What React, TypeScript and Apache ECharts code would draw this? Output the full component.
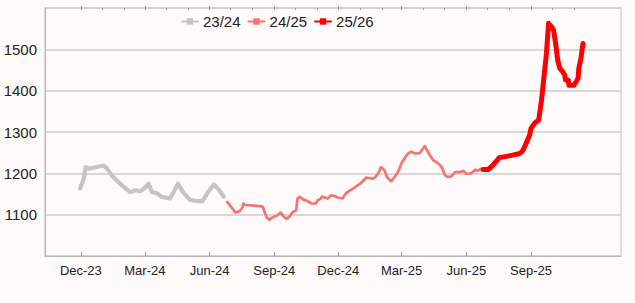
import React, { useEffect, useRef } from 'react';
import * as echarts from 'echarts';

const seasonNames = ['23/24', '24/25', '25/26'];
const seasonColors = ['#c4c4c4', '#f47474', '#ff0000'];
const seasonWidths = [4.2, 2.7, 5];

const dates2324 = ['2023-11-30','2023-12-05','2023-12-08','2023-12-12','2024-01-02','2024-01-07','2024-01-14','2024-01-21','2024-01-31','2024-02-09','2024-02-17','2024-02-24','2024-03-01','2024-03-06','2024-03-11','2024-03-19','2024-03-25','2024-04-06','2024-04-11','2024-04-17','2024-04-24','2024-05-04','2024-05-14','2024-05-22','2024-05-30','2024-06-07','2024-06-13','2024-06-21'];
const values2324 = [1163,1187,1215,1211,1219,1212,1195,1183,1167,1155,1159,1157,1165,1175,1155,1151,1143,1139,1155,1175,1155,1136,1133,1133,1155,1173,1163,1144];

const dates2425 = ['2024-06-26','2024-07-02','2024-07-08','2024-07-14','2024-07-18','2024-07-19','2024-07-21','2024-08-14','2024-08-16','2024-08-21','2024-08-25','2024-08-30','2024-09-05','2024-09-10','2024-09-14','2024-09-18','2024-09-23','2024-09-27','2024-10-02','2024-10-04','2024-10-07','2024-10-12','2024-10-18','2024-10-24','2024-10-30','2024-11-02','2024-11-06','2024-11-08','2024-11-13','2024-11-16','2024-11-21','2024-11-26','2024-12-01','2024-12-07','2024-12-12','2024-12-22','2025-01-01','2025-01-10','2025-01-19','2025-01-23','2025-01-28','2025-01-31','2025-02-05','2025-02-08','2025-02-14','2025-02-19','2025-02-24','2025-03-01','2025-03-05','2025-03-10','2025-03-15','2025-03-20','2025-03-27','2025-04-03','2025-04-10','2025-04-15','2025-04-22','2025-04-27','2025-05-02','2025-05-06','2025-05-11','2025-05-16','2025-05-23','2025-05-28','2025-06-01','2025-06-06','2025-06-10','2025-06-14','2025-06-17','2025-06-22'];
const values2425 = [1131,1118,1105,1109,1118,1127,1124,1120,1118,1094,1088,1094,1098,1105,1096,1090,1096,1106,1110,1139,1143,1137,1133,1127,1127,1135,1139,1144,1141,1139,1147,1145,1141,1139,1152,1163,1175,1190,1187,1191,1203,1215,1207,1191,1181,1191,1203,1225,1236,1248,1252,1248,1249,1266,1244,1232,1224,1215,1195,1191,1193,1203,1203,1206,1199,1199,1203,1209,1206,1211];

const dates2526 = ['2025-06-25','2025-07-02','2025-07-09','2025-07-18','2025-07-28','2025-08-06','2025-08-16','2025-08-20','2025-08-25','2025-08-30','2025-09-01','2025-09-06','2025-09-12','2025-09-16','2025-09-19','2025-09-23','2025-09-26','2025-09-30','2025-10-03','2025-10-06','2025-10-09','2025-10-12','2025-10-16','2025-10-19','2025-10-20','2025-10-24','2025-10-25','2025-11-01','2025-11-04','2025-11-07','2025-11-08','2025-11-11','2025-11-13','2025-11-14'];
const values2526 = [1209,1209,1220,1238,1241,1244,1248,1254,1272,1292,1308,1321,1329,1377,1426,1490,1563,1555,1547,1515,1474,1454,1446,1438,1426,1426,1413,1413,1421,1430,1454,1478,1503,1514];

const majorTickDates = ['2023-12-01','2024-03-01','2024-06-01','2024-09-01','2024-12-01','2025-03-01','2025-06-01','2025-09-01'];
const minorTickDates = ['2023-12-01','2024-01-01','2024-02-01','2024-03-01','2024-04-01','2024-05-01','2024-06-01','2024-07-01','2024-08-01','2024-09-01','2024-10-01','2024-11-01','2024-12-01','2025-01-01','2025-02-01','2025-03-01','2025-04-01','2025-05-01','2025-06-01','2025-07-01','2025-08-01','2025-09-01','2025-10-01','2025-11-01'];
const yTickLabels = [1100, 1200, 1300, 1400, 1500];

const MONTHS = ['Jan','Feb','Mar','Apr','May','Jun','Jul','Aug','Sep','Oct','Nov','Dec'];
const ts = (s: string) => {
  const [y, m, d] = s.split('-').map(Number);
  return Date.UTC(y, m - 1, d);
};
const fmtDate = (v: number) => {
  const d = new Date(v);
  return MONTHS[d.getUTCMonth()] + '-' + String(d.getUTCFullYear()).slice(2);
};

const FONT = 'Liberation Sans, Arial, sans-serif';

export default function App() {
  const ref = useRef<HTMLDivElement>(null);
  useEffect(() => {
    if (!ref.current) return;
    const chart = echarts.init(ref.current, null, { renderer: 'svg' });
    const allDates = [dates2324, dates2425, dates2526];
    const allValues = [values2324, values2425, values2526];
    const xMin = ts('2023-10-11');
    const xMax = ts('2026-01-07');
    const major = majorTickDates.map(ts);
    const minor = minorTickDates.map(ts);
    const baseX = { type: 'value', min: xMin, max: xMax, gridIndex: 0, splitLine: { show: false } };
    chart.setOption({
      animation: false,
      backgroundColor: '#fffafa',
      textStyle: { fontFamily: FONT },
      grid: { left: 45, right: 14, top: 8, bottom: 47, show: true, borderColor: '#c8c8c8', borderWidth: 1.2, containLabel: false },
      legend: {
        left: 176,
        top: 9,
        itemWidth: 16,
        itemHeight: 8,
        itemGap: 7,
        textStyle: { fontSize: 15, color: '#222', fontFamily: FONT },
        data: seasonNames,
      },
      xAxis: [
        {
          ...baseX,
          axisLine: { show: true, lineStyle: { color: '#b8b8b8', width: 1.2 } },
          axisTick: { show: true, customValues: major, inside: true, length: 4, lineStyle: { color: '#999' } },
          axisLabel: { customValues: major, formatter: (v: number) => fmtDate(v), fontSize: 13, color: '#222', margin: 8, fontFamily: FONT },
        },
        {
          ...baseX,
          axisLine: { show: false },
          axisTick: { show: true, customValues: minor, inside: true, length: 2, lineStyle: { color: '#999' } },
          axisLabel: { show: false },
        },
        {
          ...baseX,
          axisLine: { show: false },
          axisTick: { show: true, customValues: major, inside: false, length: 2, lineStyle: { color: '#999' } },
          axisLabel: { show: false },
        },
      ],
      yAxis: {
        type: 'value',
        min: 1000,
        max: 1600,
        interval: 100,
        axisLine: { show: true, lineStyle: { color: '#b8b8b8', width: 1.2 } },
        axisTick: { show: false },
        splitLine: { lineStyle: { color: '#cccccc', width: 1.5 } },
        axisLabel: {
          customValues: yTickLabels,
          formatter: (v: number) => String(v),
          fontSize: 15,
          color: '#222',
          margin: 8,
          fontFamily: FONT,
        },
      },
      series: seasonNames.map((name, i) => ({
        name,
        type: 'line',
        xAxisIndex: 0,
        data: allDates[i].map((d, j) => [ts(d), allValues[i][j]]),
        showSymbol: false,
        symbol: 'rect',
        symbolSize: 7,
        itemStyle: { color: seasonColors[i] },
        lineStyle: { color: seasonColors[i], width: seasonWidths[i], join: 'round', cap: 'round' },
      })),
    });
    return () => chart.dispose();
  }, []);
  return <div ref={ref} style={{ position: 'fixed', left: 0, top: 0, width: 635, height: 303 }} />;
}
